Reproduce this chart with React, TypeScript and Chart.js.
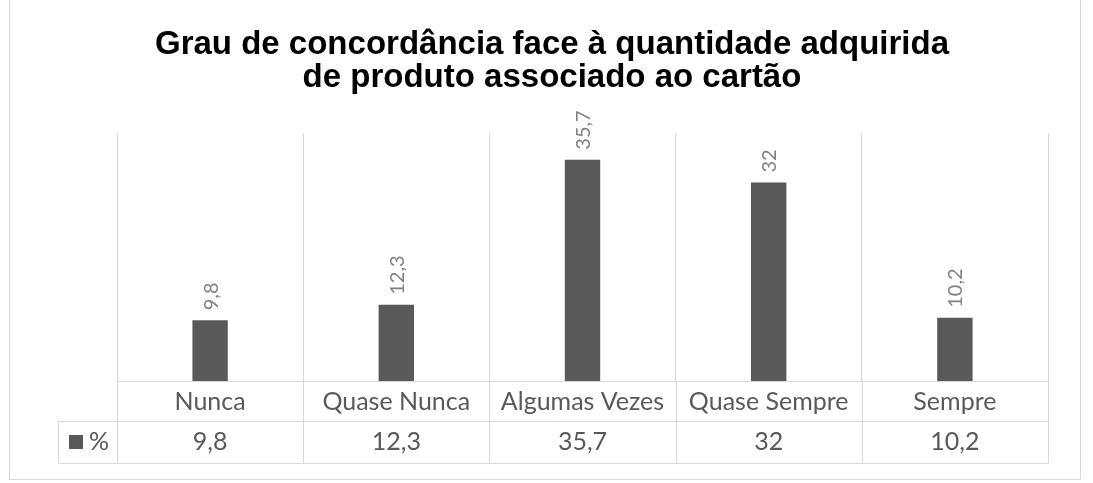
import React, { useEffect, useRef } from "react";
import { Chart, registerables } from "chart.js";

Chart.register(...registerables);

const titleLines = ["Grau de concordância face à quantidade adquirida", "de produto associado ao cartão"];
const categories = ["Nunca", "Quase Nunca", "Algumas Vezes", "Quase Sempre", "Sempre"];
const percentValues = [9.8, 12.3, 35.7, 32, 10.2];
const seriesName = "%";
const yMin = 0;
const yMax = 40;

const fmt = (v: number) => String(v).replace(".", ",");

const GRID = "#d9d9d9";
const BAR = "#595959";
const TEXT = "#595959";
const LABEL = "#808080";
const BODY_FONT = "Lato, 'Open Sans', sans-serif";

const tablePlugin = {
  id: "excelTable",
  afterDraw(chart: any) {
    const ctx = chart.ctx as CanvasRenderingContext2D;
    const area = chart.chartArea;
    const xs = chart.scales.x;
    const meta = chart.getDatasetMeta(0);
    const n = categories.length;
    const step = (area.right - area.left) / n;
    const axisY = area.bottom;
    const row1 = axisY + 40;
    const row2 = axisY + 82;
    const keyLeft = 58;
    ctx.save();

    // title
    ctx.fillStyle = "#000000";
    ctx.font = "bold 33px 'Liberation Sans', Arial, sans-serif";
    ctx.textAlign = "center";
    ctx.textBaseline = "middle";
    titleLines.forEach((t, i) => ctx.fillText(t, 552, 45 + i * 33));

    // data labels (rotated)
    ctx.fillStyle = LABEL;
    ctx.font = `20px ${BODY_FONT}`;
    ctx.textAlign = "left";
    ctx.textBaseline = "middle";
    meta.data.forEach((bar: any, i: number) => {
      ctx.save();
      ctx.translate(bar.x, bar.y - 10);
      ctx.rotate(-Math.PI / 2);
      ctx.fillText(fmt(percentValues[i]), 0, 1);
      ctx.restore();
    });

    // table lines
    ctx.strokeStyle = GRID;
    ctx.lineWidth = 1;
    const px = (v: number) => Math.round(v) + 0.5;
    ctx.beginPath();
    ctx.moveTo(keyLeft + 0.5, px(row1));
    ctx.lineTo(px(area.right), px(row1));
    ctx.moveTo(keyLeft + 0.5, px(row2));
    ctx.lineTo(px(area.right), px(row2));
    ctx.moveTo(keyLeft + 0.5, px(row1));
    ctx.lineTo(keyLeft + 0.5, px(row2));
    for (let i = 0; i <= n; i++) {
      const x = px(area.left + step * i);
      ctx.moveTo(x, axisY);
      ctx.lineTo(x, px(row2));
    }
    ctx.stroke();

    // table text
    ctx.fillStyle = TEXT;
    ctx.font = `25px ${BODY_FONT}`;
    ctx.textAlign = "center";
    ctx.textBaseline = "middle";
    categories.forEach((c, i) => {
      const cx = xs.getPixelForValue(i);
      ctx.fillText(c, cx, (axisY + row1) / 2 + 1);
      ctx.fillText(fmt(percentValues[i]), cx, (row1 + row2) / 2);
    });

    // legend key
    ctx.fillStyle = BAR;
    ctx.fillRect(69, (row1 + row2) / 2 - 7, 14, 14);
    ctx.fillStyle = TEXT;
    ctx.textAlign = "left";
    ctx.fillText(seriesName, 89, (row1 + row2) / 2);

    // outer border
    ctx.strokeStyle = GRID;
    ctx.beginPath();
    ctx.moveTo(9.5, -1);
    ctx.lineTo(9.5, 479.5);
    ctx.lineTo(1080.5, 479.5);
    ctx.lineTo(1080.5, -1);
    ctx.stroke();
    ctx.restore();
  },
};

export default function App() {
  const ref = useRef<HTMLCanvasElement>(null);
  useEffect(() => {
    document.body.style.margin = "0";
    const canvas = ref.current!;
    const chart = new Chart(canvas, {
      type: "bar",
      data: {
        labels: categories,
        datasets: [
          {
            label: seriesName,
            data: percentValues,
            backgroundColor: BAR,
            barPercentage: 0.19,
            categoryPercentage: 1,
          },
        ],
      },
      options: {
        animation: false,
        responsive: false,
        devicePixelRatio: 1,
        layout: { padding: { left: 117, right: 45, top: 133, bottom: 0 } },
        plugins: {
          legend: { display: false },
          tooltip: { enabled: false },
          title: { display: false },
        },
        scales: {
          x: {
            type: "category",
            offset: true,
            grid: { offset: true, color: GRID, drawTicks: false, lineWidth: 1 },
            border: { display: true, color: GRID },
            ticks: { display: false },
            afterFit: (s: any) => {
              s.height = 102;
            },
          },
          y: { display: false, min: yMin, max: yMax },
        },
      },
      plugins: [tablePlugin],
    } as any);
    return () => chart.destroy();
  }, []);
  return (
    <div style={{ width: 1093, height: 483, background: "#fff" }}>
      <canvas ref={ref} width={1093} height={483} />
    </div>
  );
}
